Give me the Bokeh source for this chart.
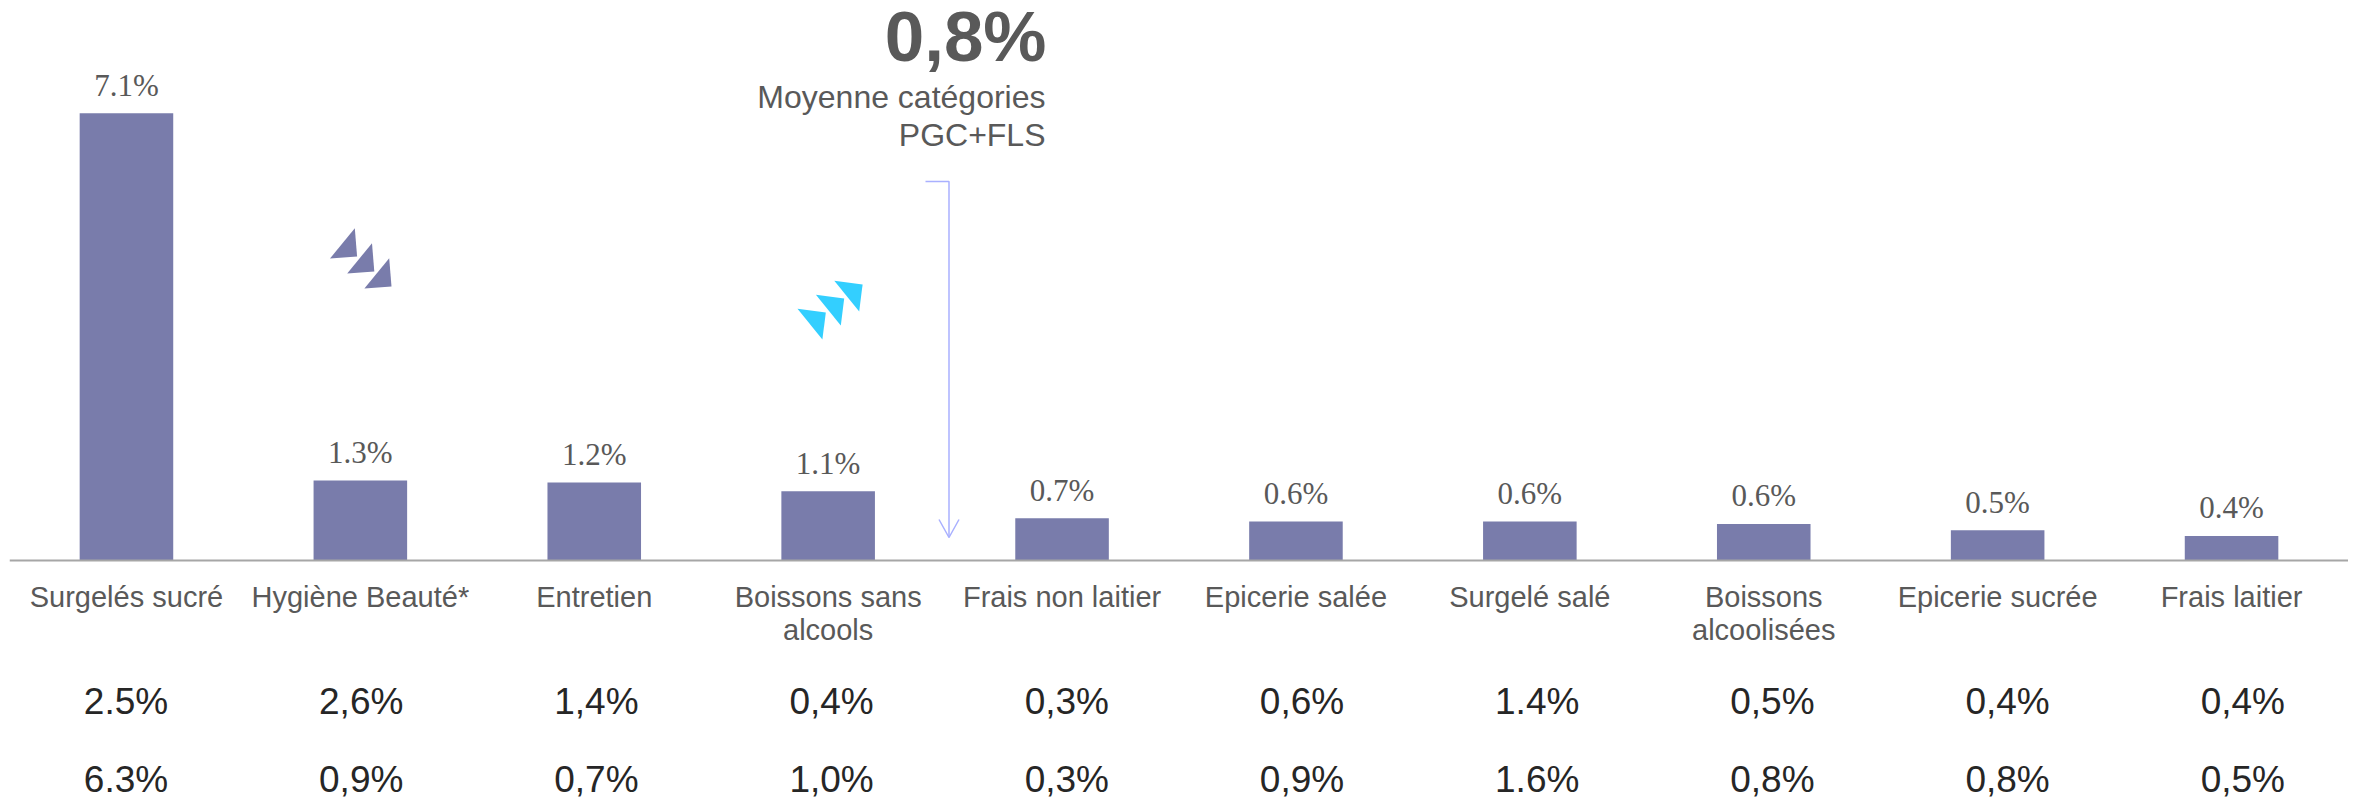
from bokeh.plotting import figure
from bokeh.models import Range1d, FactorRange, ColumnDataSource
from bokeh.core.properties import value
from bokeh.embed import file_html
from bokeh.resources import INLINE

categories = ["Surgelés sucré", "Hygiène Beauté*", "Entretien", "Boissons sans\nalcools",
              "Frais non laitier", "Epicerie salée", "Surgelé salé", "Boissons\nalcoolisées",
              "Epicerie sucrée", "Frais laitier"]
bar_values = [7.1, 1.27, 1.24, 1.10, 0.67, 0.62, 0.62, 0.58, 0.48, 0.39]
bar_labels = ["7.1%", "1.3%", "1.2%", "1.1%", "0.7%", "0.6%", "0.6%", "0.6%", "0.5%", "0.4%"]
row_1 = ["2.5%", "2,6%", "1,4%", "0,4%", "0,3%", "0,6%", "1.4%", "0,5%", "0,4%", "0,4%"]
row_2 = ["6.3%", "0,9%", "0,7%", "1,0%", "0,3%", "0,9%", "1.6%", "0,8%", "0,8%", "0,5%"]
average = "0,8%"
average_lines = ["Moyenne catégories", "PGC+FLS"]

W, H = 2348, 800
PX_PER_UNIT = 63.0
BASE_Y = 560.0
CAT_W = 233.9
LEFT, TOP = 9, 0   # frame origin on the picture

# picture pixel -> data coordinates
def dx(x): return (x - LEFT) / CAT_W
def dy(y): return (BASE_Y - y) / PX_PER_UNIT

p = figure(width=W, height=H, output_backend="svg", toolbar_location=None,
           x_range=FactorRange(factors=categories, range_padding=0, factor_padding=0),
           y_range=Range1d(dy(H), dy(TOP)),
           min_border_left=LEFT, min_border_right=0, min_border_top=TOP, min_border_bottom=0,
           outline_line_color=None, background_fill_color="white")
p.yaxis.visible = False
p.grid.visible = False

ax = p.xaxis[0]
ax.fixed_location = 0
ax.axis_line_color = "#a6a6a6"
ax.axis_line_width = 2
ax.major_tick_line_color = None
ax.minor_tick_line_color = None
ax.major_label_standoff = 14
ax.major_label_orientation = "horizontal"
ax.major_label_text_font = "Liberation Sans"
ax.major_label_text_font_size = "29px"
ax.major_label_text_color = "#595959"
ax.major_label_text_line_height = 1.05

src = ColumnDataSource(dict(cat=categories, val=bar_values, lab=bar_labels))
p.vbar(x="cat", top="val", bottom=0, width=0.4, source=src, fill_color="#797cab", line_color=None)
p.text(x="cat", y="val", text="lab", source=src, text_font=value("Liberation Serif"),
       text_font_size="31px", text_color="#595959", text_align="center",
       text_baseline="middle", y_offset=-28)

# rows under the axis
row_x = [dx(125.5 + 235.2 * i) for i in range(len(categories))]
for row, ypx in ((row_1, 701), (row_2, 779)):
    p.text(x=row_x, y=[dy(ypx)] * len(row), text=row, text_font=value("Liberation Sans"),
           text_font_size="37px", text_color="#262626", text_align="center", text_baseline="middle")

# average callout
p.text(x=[dx(1046)], y=[dy(36)], text=[average], text_font=value("Liberation Sans"),
       text_font_style="bold", text_font_size="71px", text_color="#595959",
       text_align="right", text_baseline="middle")
for line, ypx in zip(average_lines, (96, 134)):
    p.text(x=[dx(1045)], y=[dy(ypx)], text=[line], text_font=value("Liberation Sans"),
           text_font_size="32px", text_color="#595959", text_align="right", text_baseline="middle")

# bracket arrow
ARROW = "#a9b0ff"
p.line(x=[dx(925), dx(948.5), dx(948.5)], y=[dy(181), dy(181), dy(537)], line_color=ARROW, line_width=1.5)
p.line(x=[dx(938.5), dx(948.5), dx(958.5)], y=[dy(519), dy(537), dy(519)], line_color=ARROW, line_width=1.5)

# decorative triangles
def tri(x0, y0, tri_pts, ox, oy, color):
    xs, ys = [], []
    for k in range(3):
        xs.append([dx(x0 + a + ox * k) for a, _ in tri_pts])
        ys.append([dy(y0 + b + oy * k) for _, b in tri_pts])
    p.patches(xs, ys, fill_color=color, line_color=None)

tri(354.3, 227.7, [(0, 0), (2.3, 28.3), (-24.8, 30.3)], 17.2, 15, "#797cab")
tri(833.8, 280.3, [(0, 0), (28.3, 3.7), (24.9, 30.7)], -18.4, 14, "#33cfff")

open("out.html", "w").write(file_html(p, INLINE))
